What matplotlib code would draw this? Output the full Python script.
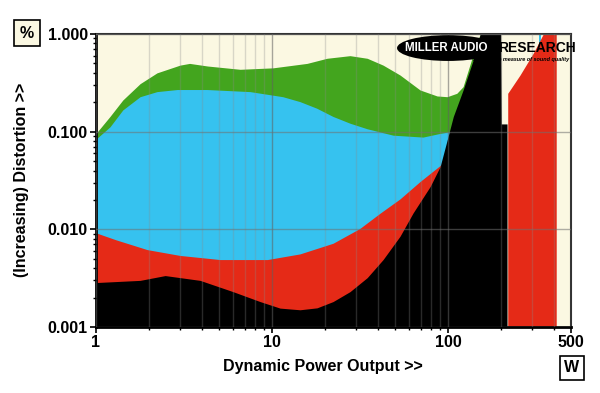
import matplotlib
matplotlib.use("Agg")
import matplotlib.pyplot as plt
from matplotlib.patches import Ellipse
from matplotlib.ticker import FixedLocator, NullFormatter

plt.rcParams['font.family'] = ['Liberation Sans', 'DejaVu Sans']

# power (W) and distortion (%), one pair of lists per layer
green_w = [1, 1.2, 1.42, 1.78, 2.22, 3.0, 3.4, 4.3, 6.58, 10.1, 15.8, 20.5, 27.7,
           34.7, 42.7, 53.3, 69.3, 86.5, 98.7, 112, 121.6, 138, 152]
green_pct = [0.096, 0.143, 0.211, 0.31, 0.40, 0.48, 0.50, 0.47, 0.435, 0.45, 0.50,
             0.564, 0.60, 0.564, 0.48, 0.38, 0.267, 0.232, 0.228, 0.247, 0.289, 0.6, 1.0]

blue_w = [1, 1.2, 1.42, 1.78, 2.22, 2.89, 4.27, 7.5, 11.5, 14.4, 17.9, 22.2, 27.7,
          34.7, 48.7, 72, 90, 103]
blue_pct = [0.084, 0.112, 0.167, 0.228, 0.257, 0.27, 0.27, 0.257, 0.228, 0.203, 0.174,
            0.143, 0.122, 0.107, 0.092, 0.088, 0.096, 0.1]
blue2_w = [327, 336]
blue2_pct = [1.0, 1.0]

red_w = [1, 1.3, 1.95, 3.0, 5.07, 9.4, 14.4, 22.2, 31.5, 41, 53.3, 69.3, 91]
red_pct = [0.0092, 0.0078, 0.0062, 0.0054, 0.0049, 0.0049, 0.0056, 0.0072, 0.0102,
           0.0146, 0.0205, 0.0309, 0.0457]
red2_w = [218, 256, 304, 347, 411]
red2_pct = [0.247, 0.38, 0.634, 1.0, 1.0]

black_w = [1, 1.78, 2.47, 3.9, 6.0, 8.55, 11.1, 14.4, 18, 22.2, 27.7, 34.7, 42.7,
           53.3, 63.2, 79, 90, 98.7, 107, 121.6, 138.7, 152, 199, 200.5, 216]
black_pct = [0.00285, 0.0030, 0.00336, 0.0030, 0.0023, 0.00182, 0.00156, 0.0015,
             0.00157, 0.00182, 0.0023, 0.0032, 0.0049, 0.0085, 0.0147, 0.0274, 0.0438,
             0.082, 0.143, 0.267, 0.54, 1.0, 1.0, 0.12, 0.12]

x_ticks = [1, 10, 100, 500]
x_labels = ['1', '10', '100', '500']
y_ticks = [0.001, 0.01, 0.1, 1.0]
y_labels = ['0.001', '0.010', '0.100', '1.000']

fig = plt.figure(figsize=(6, 3.93), dpi=100)
ax = fig.add_axes([0.16, 0.168, 0.792, 0.7455])
ax.set_facecolor('#fbf8e2')

floor = 1e-4
ax.fill_between(green_w, floor, green_pct, color='#43a51e', lw=0)
ax.fill_between(blue_w, floor, blue_pct, color='#36c2ef', lw=0)
ax.fill_between(blue2_w, floor, blue2_pct, color='#36c2ef', lw=0)
ax.fill_between(red_w, floor, red_pct, color='#e52a17', lw=0)
ax.fill_between(red2_w, floor, red2_pct, color='#e52a17', lw=0)
ax.fill_between(black_w, floor, black_pct, color='black', lw=0)

ax.set_xscale('log')
ax.set_yscale('log')
ax.set_xlim(1, 500)
ax.set_ylim(0.001, 1.0)

ax.set_xticks(x_ticks)
ax.set_xticklabels(x_labels)
ax.set_yticks(y_ticks)
ax.set_yticklabels(y_labels)
minors_x = [m * d for d in (1, 10, 100) for m in range(2, 10) if m * d < 500]
ax.xaxis.set_minor_locator(FixedLocator(minors_x))
ax.xaxis.set_minor_formatter(NullFormatter())
minors_y = [m * d for d in (0.001, 0.01, 0.1) for m in range(2, 10)]
ax.yaxis.set_minor_locator(FixedLocator(minors_y))
ax.yaxis.set_minor_formatter(NullFormatter())

ax.tick_params(which='major', direction='out', length=4, width=1.2, pad=2,
               labelsize=11.5)
ax.tick_params(which='minor', direction='out', length=2.5, width=1)
for lab in ax.get_xticklabels() + ax.get_yticklabels():
    lab.set_fontweight('bold')

# grid over the filled areas
ax.set_axisbelow(False)
ax.grid(which='minor', axis='x', color='#8a8a8a', alpha=0.3, lw=1)
ax.grid(which='major', axis='x', color='#606060', alpha=0.55, lw=1)
ax.grid(which='major', axis='y', color='#707070', alpha=0.55, lw=1)

for side in ('left', 'bottom'):
    ax.spines[side].set_linewidth(2)
    ax.spines[side].set_color('black')
for side in ('top', 'right'):
    ax.spines[side].set_linewidth(1.5)
    ax.spines[side].set_color('#333333')

# logo
ax.add_patch(Ellipse((0.741, 0.952), 0.215, 0.088, transform=ax.transAxes,
                     facecolor='black', edgecolor='none', zorder=5))
ax.text(0.737, 0.952, 'MILLER AUDIO', transform=ax.transAxes, color='white',
        fontsize=8.3, fontweight='bold', ha='center', va='center', zorder=6)
ax.text(0.846, 0.952, 'RESEARCH', transform=ax.transAxes, color='black',
        fontsize=10, fontweight='bold', ha='left', va='center', zorder=6)
ax.text(0.995, 0.912, 'Setting the measure of sound quality', transform=ax.transAxes,
        color='black', fontsize=4, fontweight='bold', style='italic',
        ha='right', va='center', zorder=6)

fig.text(323 / 600, 1 - 366 / 393, 'Dynamic Power Output >>', fontsize=11.5,
         fontweight='bold', ha='center', va='center')
fig.text(22 / 600, 1 - 180 / 393, '(Increasing) Distortion >>', fontsize=11.5,
         fontweight='bold', ha='center', va='center', rotation=90)
fig.text(27 / 600, 1 - 33 / 393, '%', fontsize=11.5, fontweight='bold',
         ha='center', va='center',
         bbox=dict(boxstyle='square,pad=0.35', facecolor='#fbf8e2',
                   edgecolor='black', lw=1.2))
fig.text(572 / 600, 1 - 368 / 393, 'W', fontsize=11.5, fontweight='bold',
         ha='center', va='center',
         bbox=dict(boxstyle='square,pad=0.3', facecolor='white',
                   edgecolor='black', lw=1.2))

fig.savefig('out.png', dpi=100)
